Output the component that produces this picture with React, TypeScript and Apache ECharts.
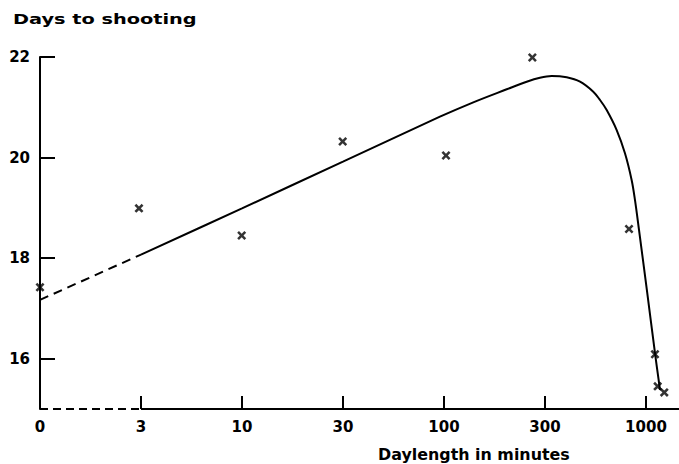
import React, { useEffect, useRef } from "react";
import * as echarts from "echarts";

// Axis positions (equally spaced schematic log scale): 0,3,10,30,100,300,1000 minutes
const xTickLabels = ["0", "3", "10", "30", "100", "300", "1000"];
const xTickPositions = [0, 1, 2, 3, 4, 5, 6];
const xLabelPositions = [0, 1, 2, 3, 4, 5, 6];
const xMax = 6.327;
const yTicks = [16, 18, 20, 22];
const yMin = 15;
const yMax = 22;

// Observed points (axis position, days to shooting)
const obsX = [0, 0.98, 1.997, 2.997, 4.02, 4.875, 5.832, 6.089, 6.116, 6.181];
const obsY = [17.42, 18.99, 18.45, 20.32, 20.04, 21.99, 18.58, 16.09, 15.45, 15.33];

// Fitted curve (solid)
const curveX = [1, 2, 3, 3.96, 4.29, 4.621, 4.819, 4.95, 5.066, 5.215, 5.347, 5.478, 5.545, 5.611, 5.71, 5.792, 5.858, 5.891, 5.931, 6.01, 6.089, 6.139];
const curveY = [18.07, 18.99, 19.92, 20.813, 21.099, 21.358, 21.509, 21.588, 21.622, 21.596, 21.509, 21.31, 21.145, 20.946, 20.548, 20.085, 19.554, 19.157, 18.56, 17.35, 16.115, 15.38];

// Extrapolated part (dashed)
const dashX = [0, 1];
const dashY = [17.17, 18.07];

const FONT = "DejaVu Sans";
const crossPath =
  "path://M0,2L2,0L5,3L8,0L10,2L7,5L10,8L8,10L5,7L2,10L0,8L3,5Z";

export default function App() {
  const ref = useRef<HTMLDivElement>(null);
  useEffect(() => {
    if (!ref.current) return;
    const chart = echarts.init(ref.current, undefined, { renderer: "svg" });
    const zip = (xs: number[], ys: number[]) => xs.map((x, i) => [x, ys[i]]);
    chart.setOption({
      animation: false,
      backgroundColor: "#fff",
      grid: { left: 40, top: 57, width: 639, height: 352, containLabel: false },
      xAxis: {
        type: "value",
        min: 0,
        max: xMax,
        axisLine: { show: false },
        splitLine: { show: false },
        axisTick: {
          show: true,
          inside: true,
          length: 13,
          customValues: xTickPositions.slice(1),
          lineStyle: { color: "#000", width: 2 },
        },
        axisLabel: {
          customValues: xLabelPositions,
          formatter: (v: number) => xTickLabels[Math.round(v)] ?? "",
          margin: 10,
          color: "#000",
          fontFamily: FONT,
          fontWeight: "bold",
          fontSize: 15,
        },
      },
      yAxis: {
        type: "value",
        min: yMin,
        max: yMax,
        axisLine: { show: true, lineStyle: { color: "#000", width: 2 } },
        splitLine: { show: false },
        axisTick: {
          show: true,
          inside: true,
          length: 15,
          customValues: yTicks,
          lineStyle: { color: "#000", width: 2 },
        },
        axisLabel: {
          customValues: yTicks,
          margin: 10,
          color: "#000",
          fontFamily: FONT,
          fontWeight: "bold",
          fontSize: 15,
        },
      },
      graphic: [
        {
          type: "text",
          x: 13,
          y: 19,
          scaleX: 1.38,
          style: {
            text: "Days to shooting",
            font: `bold 14px "${FONT}"`,
            fill: "#000",
            verticalAlign: "middle",
          },
        },
        {
          type: "text",
          x: 378,
          y: 455,
          scaleX: 1.06,
          style: {
            text: "Daylength in minutes",
            font: `bold 15px "${FONT}"`,
            fill: "#000",
            verticalAlign: "middle",
          },
        },
      ],
      series: [
        {
          type: "line",
          data: [
            [0, yMin],
            [1, yMin],
          ],
          symbol: "none",
          clip: false,
          lineStyle: { color: "#000", width: 2, type: [8, 5] },
        },
        {
          type: "line",
          data: [
            [1, yMin],
            [xMax, yMin],
          ],
          symbol: "none",
          clip: false,
          lineStyle: { color: "#000", width: 2 },
        },
        {
          type: "line",
          data: zip(dashX, dashY),
          symbol: "none",
          lineStyle: { color: "#000", width: 2, type: [9, 6] },
        },
        {
          type: "line",
          data: zip(curveX, curveY),
          symbol: "none",
          smooth: 0.35,
          lineStyle: { color: "#000", width: 2 },
        },
        {
          type: "scatter",
          data: zip(obsX, obsY),
          symbol: crossPath,
          symbolSize: 9,
          clip: false,
          itemStyle: { color: "#000" },
          z: 5,
        },
      ],
    });
    return () => chart.dispose();
  }, []);
  return <div ref={ref} style={{ width: 679, height: 464, position: "absolute", left: 0, top: 0 }} />;
}
